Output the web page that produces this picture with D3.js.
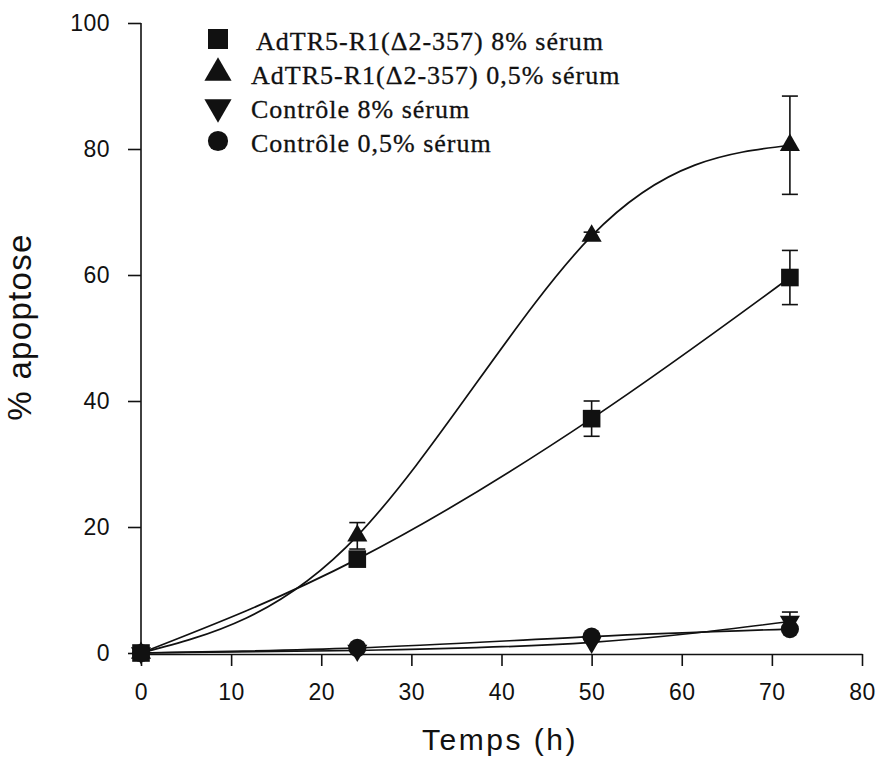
<!DOCTYPE html>
<html>
<head>
<meta charset="utf-8">
<script src="https://cdn.jsdelivr.net/npm/d3@7"></script>
<style>
  body { margin: 0; background: #fff; }
  text { fill: #111; }
</style>
</head>
<body>
<div id="chart"></div>
<script>
// Data
const hours = [0, 24, 50, 72];
const seriesNames = [
    "AdTR5-R1(\u03942-357) 8% s\u00e9rum",
    "AdTR5-R1(\u03942-357) 0,5% s\u00e9rum",
    "Contr\u00f4le 8% s\u00e9rum",
    "Contr\u00f4le 0,5% s\u00e9rum"
];
const adtr8 = [0, 14.9, 37.2, 59.6];
const adtr8Err = [0, 1.0, 2.8, 4.3];
const adtr05 = [0, 18.6, 66.2, 80.6];
const adtr05Err = [0, 2.1, 0.6, 7.8];
const ctrl8 = [0, 0.4, 1.7, 5.0];
const ctrl8Err = [0, 0, 0, 1.5];
const ctrl05 = [0, 0.8, 2.6, 3.8];
const ctrl05Err = [0, 0, 0, 0];
const xTicks = [0, 10, 20, 30, 40, 50, 60, 70, 80];
const yTicks = [0, 20, 40, 60, 80, 100];

const width = 880;
const height = 759;

const svg = d3.select("#chart")
    .append("svg")
    .attr("width", width)
    .attr("height", height);

// Scales
const xScale = d3.scaleLinear().domain([0, 80]).range([141, 862]);
const yScale = d3.scaleLinear().domain([0, 100]).range([653, 23]);

const series = [
    { name: seriesNames[0], values: adtr8, err: adtr8Err, symbol: d3.symbolSquare, size: 310 },
    { name: seriesNames[1], values: adtr05, err: adtr05Err, symbol: d3.symbolTriangle, size: 175 },
    { name: seriesNames[2], values: ctrl8, err: ctrl8Err, symbol: d3.symbolTriangle, size: 175, flip: true },
    { name: seriesNames[3], values: ctrl05, err: ctrl05Err, symbol: d3.symbolCircle, size: 260 }
];

// Axes
const xAxis = d3.axisBottom(xScale)
    .tickValues(xTicks)
    .tickSize(12)
    .tickSizeOuter(0)
    .tickPadding(18);
const gx = svg.append("g")
    .attr("transform", `translate(0,${yScale(0) + 1})`)
    .call(xAxis);

const yAxis = d3.axisLeft(yScale)
    .tickValues(yTicks)
    .tickSize(13)
    .tickSizeOuter(0)
    .tickPadding(18);
const gy = svg.append("g")
    .attr("transform", `translate(${xScale(0)},0)`)
    .call(yAxis);

[gx, gy].forEach(g => {
    g.selectAll("path, line").attr("stroke", "#111").attr("stroke-width", 1.6);
    g.selectAll("text")
        .style("font-family", "'Liberation Sans', Arial, sans-serif")
        .style("font-size", "23px")
        .style("letter-spacing", "0.5px")
        .attr("fill", "#111");
});
gy.select("path").attr("d", `M0,${yScale(0)}V${yScale(100)}`);

// Axis labels
svg.append("text")
    .attr("x", 500)
    .attr("y", 750)
    .style("text-anchor", "middle")
    .style("font-family", "'Liberation Sans', Arial, sans-serif")
    .style("font-size", "30px")
    .style("letter-spacing", "2.5px")
    .text("Temps (h)");

svg.append("text")
    .attr("x", -327)
    .attr("y", 31)
    .attr("transform", "rotate(-90)")
    .style("text-anchor", "middle")
    .style("font-family", "'Liberation Sans', Arial, sans-serif")
    .style("font-size", "33px")
    .style("letter-spacing", "1.3px")
    .text("% apoptose");

// Lines (smooth spline through the points)
const line = d3.line()
    .x((d, i) => xScale(hours[i]))
    .y(d => yScale(d))
    .curve(d3.curveNatural);

svg.selectAll(".series-line")
    .data(series)
    .enter()
    .append("path")
    .attr("class", "series-line")
    .attr("d", d => line(d.values))
    .attr("fill", "none")
    .attr("stroke", "#111")
    .attr("stroke-width", 1.7);

// Error bars
series.forEach(s => {
    const g = svg.append("g");
    s.values.forEach((v, i) => {
        if (!s.err[i]) return;
        const cx = xScale(hours[i]);
        const y1 = yScale(v + s.err[i]);
        const y2 = yScale(v - s.err[i]);
        g.append("line").attr("x1", cx).attr("x2", cx).attr("y1", y1).attr("y2", y2)
            .attr("stroke", "#111").attr("stroke-width", 1.6);
        [y1, y2].forEach(yy => {
            g.append("line").attr("x1", cx - 8).attr("x2", cx + 8).attr("y1", yy).attr("y2", yy)
                .attr("stroke", "#111").attr("stroke-width", 1.6);
        });
    });
});

// Markers
series.forEach(s => {
    svg.append("g")
        .selectAll("path")
        .data(s.values)
        .enter()
        .append("path")
        .attr("d", d3.symbol().type(s.symbol).size(s.size))
        .attr("transform", (d, i) => `translate(${xScale(hours[i])},${yScale(d)})${s.flip ? " rotate(180)" : ""}`)
        .attr("fill", "#111");
});

// Legend
const legend = svg.append("g")
    .attr("transform", "translate(218, 39)");

const legendItems = legend.selectAll(".legendItem")
    .data(series)
    .enter()
    .append("g")
    .attr("class", "legendItem")
    .attr("transform", (d, i) => `translate(0, ${i * 34})`);

legendItems.append("path")
    .attr("d", d => d3.symbol().type(d.symbol).size(d.symbol === d3.symbolSquare ? 400 : 320)())
    .attr("transform", d => d.flip ? "rotate(180)" : null)
    .attr("fill", "#111");

legendItems.append("text")
    .attr("x", (d, i) => i === 0 ? 38 : 33)
    .attr("y", 11)
    .style("font-family", "'Liberation Serif', 'Times New Roman', serif")
    .style("font-size", "26px")
    .style("letter-spacing", "1px")
    .attr("stroke", "#111")
    .attr("stroke-width", 0.3)
    .text(d => d.name);
</script>
</body>
</html>
